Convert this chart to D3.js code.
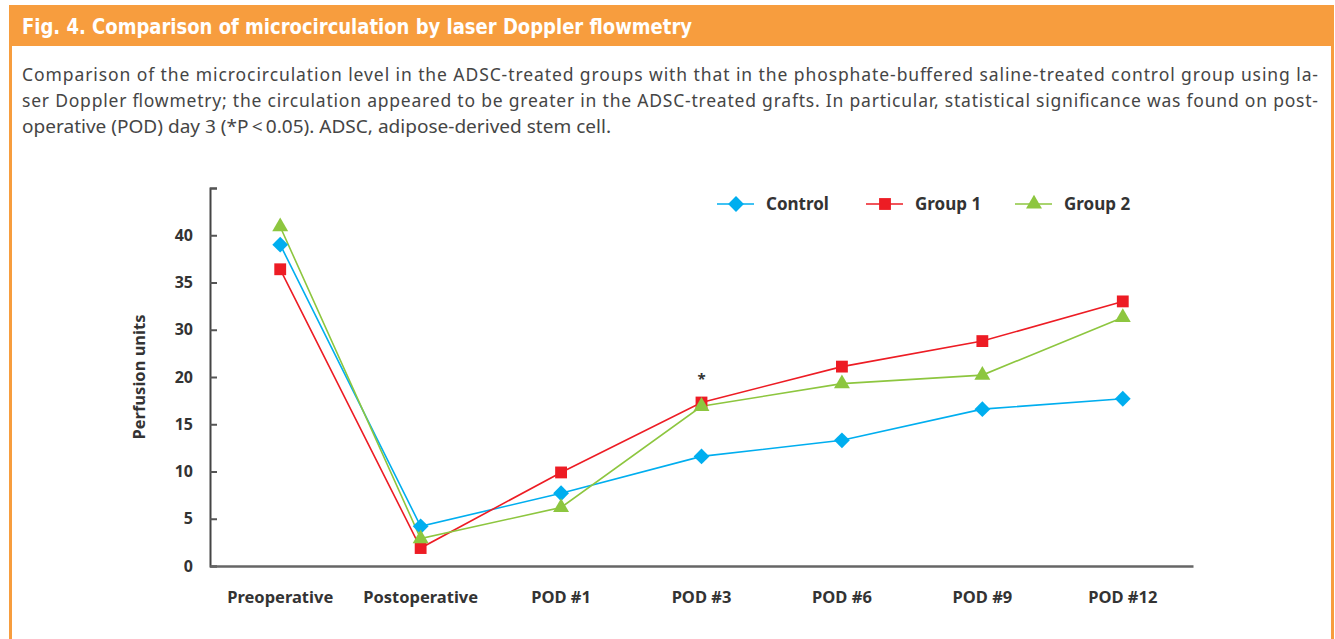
<!DOCTYPE html>
<html>
<head>
<meta charset="utf-8">
<script src="https://cdn.jsdelivr.net/npm/d3@7"></script>
<style>
  body { margin: 0; background: #fff; }
  svg { display: block; }
</style>
</head>
<body>
<svg id="fig" width="1335" height="639"></svg>
<script>
// data (values in the units printed on the axis)
var categories = ["Preoperative", "Postoperative", "POD #1", "POD #3", "POD #6", "POD #9", "POD #12"];
var control = [39.0, 4.2, 7.7, 11.6, 13.3, 16.6, 17.7];
var group1  = [36.4, 1.9, 9.9, 17.3, 22.2, 27.6, 33.0];
var group2  = [40.9, 2.9, 6.2, 16.9, 19.3, 20.4, 31.3];
var seriesNames = ["Control", "Group 1", "Group 2"];
// the printed axis skips 25, labels go 0 5 10 15 20 30 35 40
var yTicks = [0, 5, 10, 15, 20, 30, 35, 40, 45];
var sigMark = {cat: "POD #3", label: "*"};

var title = "Fig. 4. Comparison of microcirculation by laser Doppler flowmetry";
var caption = [
  "Comparison of the microcirculation level in the ADSC-treated groups with that in the phosphate-buffered saline-treated control group using la-",
  "ser Doppler flowmetry; the circulation appeared to be greater in the ADSC-treated grafts. In particular, statistical significance was found on post-",
  "operative (POD) day 3 (*P\u2009<\u20090.05). ADSC, adipose-derived stem cell."
];

var colors = {"Control": "#00aeef", "Group 1": "#ed1c24", "Group 2": "#8dc63f"};
var shapes = {"Control": "diamond", "Group 1": "square", "Group 2": "triangle"};

var svg = d3.select("#fig");
var orange = "#f79d3e";

// frame + header
svg.append("rect").attr("x", 9).attr("y", 5).attr("width", 1325).attr("height", 41).attr("fill", orange);
svg.append("line").attr("x1", 10.5).attr("x2", 10.5).attr("y1", 5).attr("y2", 639)
  .attr("stroke", orange).attr("stroke-width", 3);
svg.append("line").attr("x1", 1332.5).attr("x2", 1332.5).attr("y1", 5).attr("y2", 639)
  .attr("stroke", orange).attr("stroke-width", 3);

svg.append("text")
  .attr("x", 22).attr("y", 34)
  .attr("fill", "#fff")
  .attr("font-family", "'Liberation Sans Narrow', 'DejaVu Sans Condensed', 'Roboto', sans-serif")
  .attr("font-weight", "bold")
  .attr("font-size", 21)
  .attr("textLength", 670).attr("lengthAdjust", "spacingAndGlyphs")
  .text(title);

var capWidths = [1296, 1296, 589];
svg.selectAll("text.cap")
  .data(caption)
  .enter().append("text")
  .attr("class", "cap")
  .attr("x", 22)
  .attr("y", function(d, i) { return 81 + i * 26; })
  .attr("fill", "#454545")
  .attr("font-family", "'Noto Sans', 'Open Sans', sans-serif")
  .attr("font-size", 17.5)
  .attr("textLength", function(d, i) { return capWidths[i]; })
  .attr("lengthAdjust", function(d, i) { return i < 2 ? "spacing" : "spacingAndGlyphs"; })
  .text(function(d) { return d; });

// scales
var x = d3.scaleBand().domain(categories).range([210, 1193]);
var yIdx = d3.scaleLinear().domain([0, 8]).range([566, 188]);
var y = d3.scaleLinear().domain([0, 20, 30, 45]).range([0, 4, 5, 8].map(yIdx));
function cx(d, i) { return x(categories[i]) + x.bandwidth() / 2; }

var font = "'Noto Sans', 'Open Sans', sans-serif";

// y axis
var yAxis = svg.append("g").attr("transform", "translate(210,0)")
  .call(d3.axisLeft(y).tickValues(yTicks).tickSize(-7).tickPadding(17)
    .tickFormat(function(d) { return d === 45 ? "" : d; }));
yAxis.select(".domain").attr("stroke", "#444").attr("stroke-width", 2);
yAxis.selectAll(".tick line").attr("stroke", "#555").attr("stroke-width", 2);
yAxis.selectAll(".tick text").attr("font-family", font).attr("font-weight", "bold")
  .attr("font-size", 16).attr("fill", "#333");

// x axis
var xAxis = svg.append("g").attr("transform", "translate(0,566)")
  .call(d3.axisBottom(x).tickSize(0).tickPadding(25));
xAxis.select(".domain").attr("stroke", "#666").attr("stroke-width", 2.5);
xAxis.selectAll(".tick text").attr("font-family", font).attr("font-weight", "bold")
  .attr("font-size", 16.5).attr("fill", "#333");

svg.append("text")
  .attr("transform", "translate(145,377) rotate(-90)")
  .attr("text-anchor", "middle")
  .attr("font-family", font).attr("font-weight", "bold").attr("font-size", 16.5)
  .attr("fill", "#333")
  .text("Perfusion units");

// series
var allSeries = [control, group1, group2];
var line = d3.line().x(cx).y(function(d) { return y(d); });

function symbolFor(name) {
  if (shapes[name] === "diamond") return d3.symbol(d3.symbolSquare, 125)();
  if (shapes[name] === "square") return d3.symbol(d3.symbolSquare, 140)();
  return d3.symbol(d3.symbolTriangle, 110)();
}
function rot(name) { return shapes[name] === "diamond" ? " rotate(45)" : ""; }

allSeries.forEach(function(vals, k) {
  var name = seriesNames[k];
  svg.append("path").datum(vals)
    .attr("d", line)
    .attr("fill", "none")
    .attr("stroke", colors[name])
    .attr("stroke-width", 1.6);
});
allSeries.forEach(function(vals, k) {
  var name = seriesNames[k];
  svg.append("g").selectAll("path")
    .data(vals)
    .enter().append("path")
    .attr("d", symbolFor(name))
    .attr("transform", function(d, i) { return "translate(" + cx(d, i) + "," + y(d) + ")" + rot(name); })
    .attr("fill", colors[name]);
});

// significance mark
svg.append("text")
  .attr("x", x(sigMark.cat) + x.bandwidth() / 2)
  .attr("y", 384)
  .attr("text-anchor", "middle")
  .attr("font-family", font).attr("font-weight", "bold").attr("font-size", 15)
  .attr("fill", "#333")
  .text(sigMark.label);

// legend
var legX = [717, 866, 1015];
seriesNames.forEach(function(name, k) {
  var g = svg.append("g").attr("transform", "translate(" + legX[k] + ",204)");
  g.append("line").attr("x1", 0).attr("x2", 37).attr("y1", 0).attr("y2", 0)
    .attr("stroke", colors[name]).attr("stroke-width", 1.6);
  g.append("path").attr("d", symbolFor(name))
    .attr("transform", "translate(19,0)" + rot(name))
    .attr("fill", colors[name]);
  g.append("text").attr("x", 49).attr("y", 6)
    .attr("font-family", font).attr("font-weight", "bold").attr("font-size", 17)
    .attr("fill", "#333")
    .text(name);
});
</script>
</body>
</html>
